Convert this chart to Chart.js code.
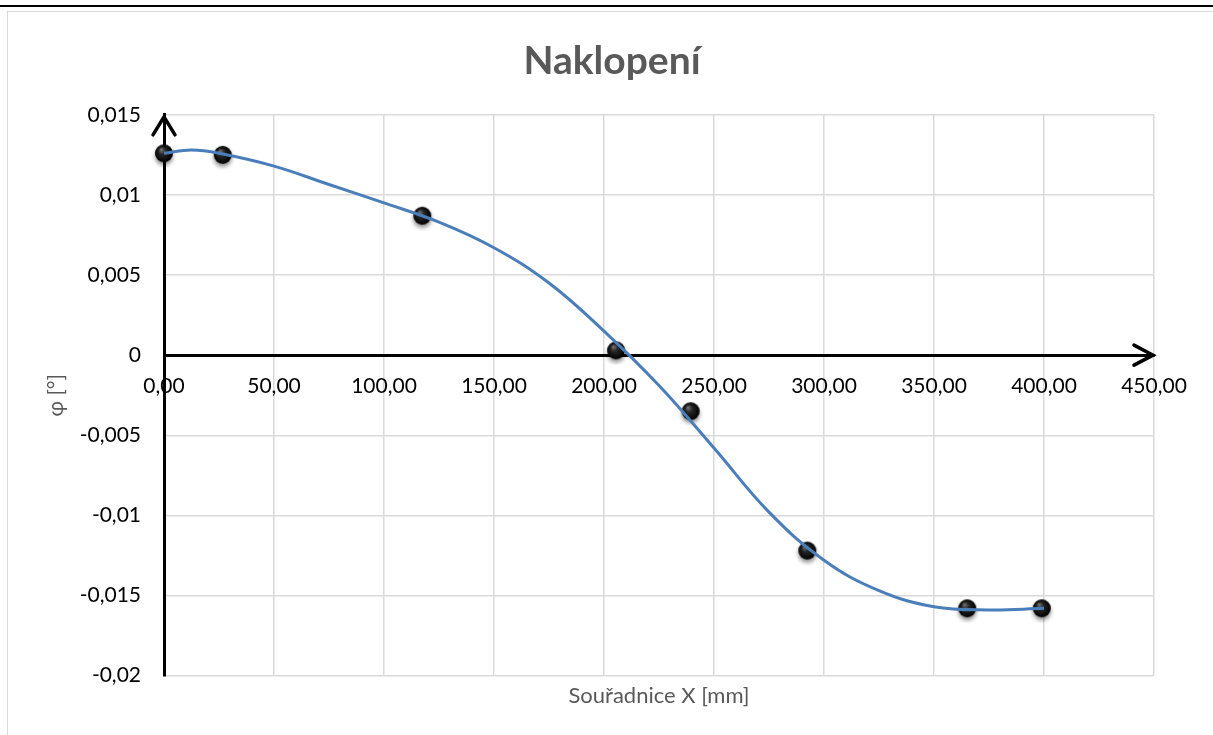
<!DOCTYPE html>
<html>
<head>
<meta charset="utf-8">
<script src="https://cdn.jsdelivr.net/npm/chart.js@4.4.0/dist/chart.umd.min.js"></script>
<style>
html, body { margin: 0; padding: 0; background: #fff; overflow: hidden; }
#topline { position: absolute; left: 0; top: 5px; width: 1213px; height: 2px; background: #000; }
#frame { position: absolute; left: 7px; top: 11px; width: 1300px; height: 800px; border: 1px solid #d9d9d9; }
canvas { position: absolute; left: 0; top: 0; }
</style>
</head>
<body>
<div id="topline"></div>
<div id="frame"></div>
<canvas id="myChart" width="1213" height="735"></canvas>
<script>
// measured points
var measX = [0, 26.7, 117.4, 205.5, 239.4, 292.4, 365.1, 399];
var measPhi = [0.0126, 0.0125, 0.0087, 0.0003, -0.0035, -0.0122, -0.0158, -0.0158];

// trend curve
var trendX = [0, 12.5, 25, 50, 75, 100, 125, 150, 175, 200, 225, 250, 275, 300, 325, 350, 375, 400];
var trendPhi = [0.0126, 0.0128, 0.0126, 0.0118, 0.01065, 0.0095, 0.0083, 0.0067, 0.0045, 0.0015, -0.0019,
                -0.0058, -0.0098, -0.0128, -0.0147, -0.0157, -0.0159, -0.0158];

var fontFam = 'Lato, "Open Sans", sans-serif';

function toPoints(xs, ys) {
    return xs.map(function (x, i) { return { x: x, y: ys[i] }; });
}

// black ball marker
var ball = document.createElement('canvas');
ball.width = 30; ball.height = 30;
(function () {
    var c = ball.getContext('2d');
    c.shadowColor = 'rgba(0,0,0,0.45)';
    c.shadowBlur = 4;
    c.shadowOffsetY = 3;
    var g = c.createRadialGradient(12, 11, 0, 15, 15, 9);
    g.addColorStop(0, '#7d7d7d');
    g.addColorStop(0.4, '#262626');
    g.addColorStop(1, '#000');
    c.fillStyle = g;
    c.beginPath();
    c.arc(15, 15, 9, 0, Math.PI * 2);
    c.fill();
})();

const axisArrows = {
    id: 'axisArrows',
    afterDraw(chart) {
        const ctx = chart.ctx, a = chart.chartArea;
        const x0 = chart.scales.x.getPixelForValue(0);
        const y0 = chart.scales.y.getPixelForValue(0);
        ctx.save();
        ctx.strokeStyle = '#000';
        ctx.lineWidth = 3.5;
        ctx.lineCap = 'round';
        ctx.beginPath();
        ctx.moveTo(x0 - 11, a.top + 20); ctx.lineTo(x0, a.top + 2); ctx.lineTo(x0 + 11, a.top + 20);
        ctx.moveTo(a.right - 20, y0 - 10); ctx.lineTo(a.right - 1, y0); ctx.lineTo(a.right - 20, y0 + 10);
        ctx.stroke();
        ctx.restore();
    }
};

const data = {
    datasets: [{
        label: 'trend',
        data: toPoints(trendX, trendPhi),
        showLine: true,
        borderColor: '#4a7ebb',
        borderWidth: 3,
        pointRadius: 0,
        tension: 0.4,
        fill: false,
        clip: false,
        order: 0
    }, {
        label: 'φ',
        data: toPoints(measX, measPhi),
        pointStyle: ball,
        pointRadius: 9,
        showLine: false,
        clip: false,
        order: 1
    }]
};

const config = {
    type: 'scatter',
    data: data,
    plugins: [axisArrows],
    options: {
        responsive: false,
        animation: false,
        layout: { padding: { left: 70, right: 59, top: 0, bottom: 0 } },
        plugins: {
            legend: { display: false },
            tooltip: { enabled: false },
            title: {
                display: true,
                text: 'Naklopení',
                color: '#595959',
                font: { family: fontFam, size: 39, weight: 'bold' },
                padding: { top: 38, bottom: 30 }
            },
            subtitle: {
                display: true,
                text: 'Souřadnice X [mm]',
                position: 'bottom',
                fullSize: false,
                color: '#595959',
                font: { family: fontFam, size: 22 },
                padding: { top: 7, bottom: 26 }
            }
        },
        scales: {
            x: {
                type: 'linear',
                position: { y: 0 },
                min: 0,
                max: 450,
                ticks: {
                    stepSize: 50,
                    color: '#000',
                    padding: 18,
                    font: { family: fontFam, size: 21 },
                    callback: function (v) { return v.toFixed(2).replace('.', ','); }
                },
                grid: { color: '#d9d9d9', lineWidth: 1.5, drawTicks: false },
                border: { color: '#000', width: 3 }
            },
            y: {
                type: 'linear',
                position: 'left',
                min: -0.02,
                max: 0.015,
                afterFit: function (scale) { scale.width = 94; },
                ticks: {
                    stepSize: 0.005,
                    color: '#000',
                    padding: 23,
                    font: { family: fontFam, size: 21 },
                    callback: function (v) { return String(parseFloat(v.toFixed(3))).replace('.', ','); }
                },
                grid: { color: '#d9d9d9', lineWidth: 1.5, drawTicks: false },
                border: { color: '#000', width: 3 },
                title: {
                    display: true,
                    text: 'φ [°]',
                    color: '#595959',
                    font: { family: fontFam, size: 21 },
                    padding: { top: -26, bottom: 0 }
                }
            }
        }
    }
};

const myChart = new Chart(document.getElementById('myChart'), config);
</script>
</body>
</html>
